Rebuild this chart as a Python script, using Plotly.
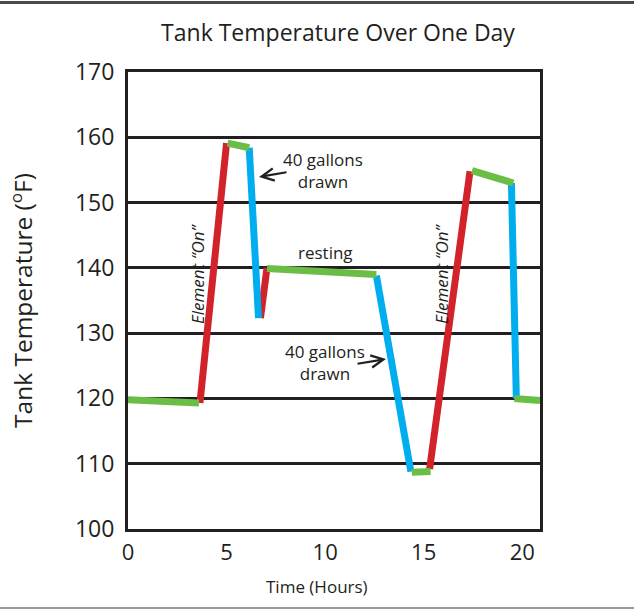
import plotly.graph_objects as go

# ---- data (hours, degrees F) ----
GREEN_HOURS = [(0, 3.6), (5.05, 6.15), (7.05, 12.6), (14.4, 15.35), (17.45, 19.55), (19.6, 20.9)]
GREEN_TEMPS = [(119.8, 119.3), (159.1, 158.4), (139.9, 139.0), (108.7, 108.8), (154.9, 153.0), (120.0, 119.7)]
RED_HOURS = [(3.65, 5.0), (6.72, 7.05), (15.3, 17.35)]
RED_TEMPS = [(119.3, 159.1), (132.3, 140.0), (109.2, 154.8)]
BLUE_HOURS = [(6.15, 6.62), (12.6, 14.35), (19.45, 19.7)]
BLUE_TEMPS = [(158.4, 132.3), (138.8, 108.8), (153.0, 120.0)]

X_TICKS = [0, 5, 10, 15, 20]
X_TICK_MARKS = [4.42, 8.88, 13.35, 17.77]
Y_TICKS = [100, 110, 120, 130, 140, 150, 160, 170]

INK = "#231F20"
FONT = "Open Sans"


def segs(hours, temps):
    xs, ys = [], []
    for (x0, x1), (y0, y1) in zip(hours, temps):
        xs += [x0, x1, None]
        ys += [y0, y1, None]
    return xs, ys


fig = go.Figure()
for hours, temps, color in [
    (RED_HOURS, RED_TEMPS, "#D2232A"),
    (BLUE_HOURS, BLUE_TEMPS, "#00AEEF"),
    (GREEN_HOURS, GREEN_TEMPS, "#6ABD45"),
]:
    xs, ys = segs(hours, temps)
    fig.add_trace(go.Scatter(x=xs, y=ys, mode="lines", line=dict(color=color, width=7),
                             hoverinfo="skip", showlegend=False))

W, H = 634, 614
# plot area in pixels: left 128, right 540, top 72, bottom 529
L, R, T, B = 128, W - 540, 72, H - 529
PW, PH = W - L - R, H - T - B


def px(xs):
    return (xs - L) / PW


def py(ys):
    return (H - B - ys) / PH


fig.update_layout(
    width=W, height=H,
    margin=dict(l=L, r=R, t=T, b=B),
    paper_bgcolor="white", plot_bgcolor="white",
    font=dict(family=FONT, color=INK),
    title=dict(text="Tank Temperature Over One Day", font=dict(size=23, color=INK, family=FONT),
               x=px(338), xref="paper", xanchor="center", y=1 - 33 / H, yref="container",
               yanchor="middle"),
    xaxis=dict(range=[0, 20.9], tickvals=X_TICKS, ticks="", showgrid=False, zeroline=False,
               showline=True, linecolor=INK, linewidth=3, mirror=True,
               tickfont=dict(size=22, color=INK), ticklabelstandoff=2),
    xaxis2=dict(range=[0, 20.9], overlaying="x", anchor="y", side="bottom", tickvals=X_TICK_MARKS,
                ticks="inside", ticklen=5, tickwidth=2.5, tickcolor=INK, showticklabels=False,
                showgrid=False, zeroline=False, showline=False),
    xaxis3=dict(range=[0, 20.9], overlaying="x", anchor="y", side="bottom", tickvals=X_TICK_MARKS,
                ticks="outside", ticklen=5, tickwidth=2.5, tickcolor=INK, showticklabels=False,
                showgrid=False, zeroline=False, showline=False),
    yaxis=dict(range=[100, 170], tickvals=Y_TICKS, ticks="", showgrid=True, gridcolor=INK, gridwidth=2.5,
               zeroline=False, showline=True, linecolor=INK, linewidth=3, mirror=True,
               tickfont=dict(size=23, color=INK), ticklabelstandoff=6,
               title=dict(text="Tank Temperature (<sup>o</sup>F)", font=dict(size=24.5, color=INK), standoff=36)),
)

# x axis title
fig.add_annotation(text="Time (Hours)", xref="paper", yref="paper", x=px(317), y=py(586),
                   showarrow=False, font=dict(size=17, color=INK), xanchor="center", yanchor="middle")

# labels
fig.add_annotation(text="40 gallons<br>drawn", xref="paper", yref="paper", x=px(323), y=py(171),
                   showarrow=False, font=dict(size=17, color=INK), xanchor="center", yanchor="middle")
fig.add_annotation(text="40 gallons<br>drawn", xref="paper", yref="paper", x=px(325), y=py(362),
                   showarrow=False, font=dict(size=17, color=INK), xanchor="center", yanchor="middle")
fig.add_annotation(text="resting", xref="paper", yref="paper", x=px(325), y=py(252),
                   showarrow=False, font=dict(size=17, color=INK), xanchor="center", yanchor="middle")
for xc in (197, 441):
    fig.add_annotation(text="<i>Element “On”</i>", xref="paper", yref="paper", x=px(xc), y=py(274),
                       showarrow=False, textangle=-90, font=dict(size=17, color=INK),
                       xanchor="center", yanchor="middle")

# arrows (tail -> head)
for (tx, ty), (hx, hy) in [((288, 172), (259, 177)), ((356, 364), (386, 359))]:
    fig.add_annotation(text="", xref="paper", yref="paper", x=px(hx), y=py(hy),
                       axref="pixel", ayref="pixel", ax=tx - hx, ay=ty - hy,
                       showarrow=True, arrowhead=5, arrowsize=1.1, arrowwidth=2.2, arrowcolor=INK)

# page border lines
fig.add_shape(type="line", xref="paper", yref="paper", x0=px(-20), x1=px(W + 20), y0=py(2.5), y1=py(2.5),
              line=dict(color="#4a4a4a", width=3))
fig.add_shape(type="line", xref="paper", yref="paper", x0=px(-20), x1=px(W + 20), y0=py(608), y1=py(608),
              line=dict(color="#9a9a9a", width=2))

fig.write_html("out.html", config={"displayModeBar": False},
               post_script="document.body.style.margin='0';")
